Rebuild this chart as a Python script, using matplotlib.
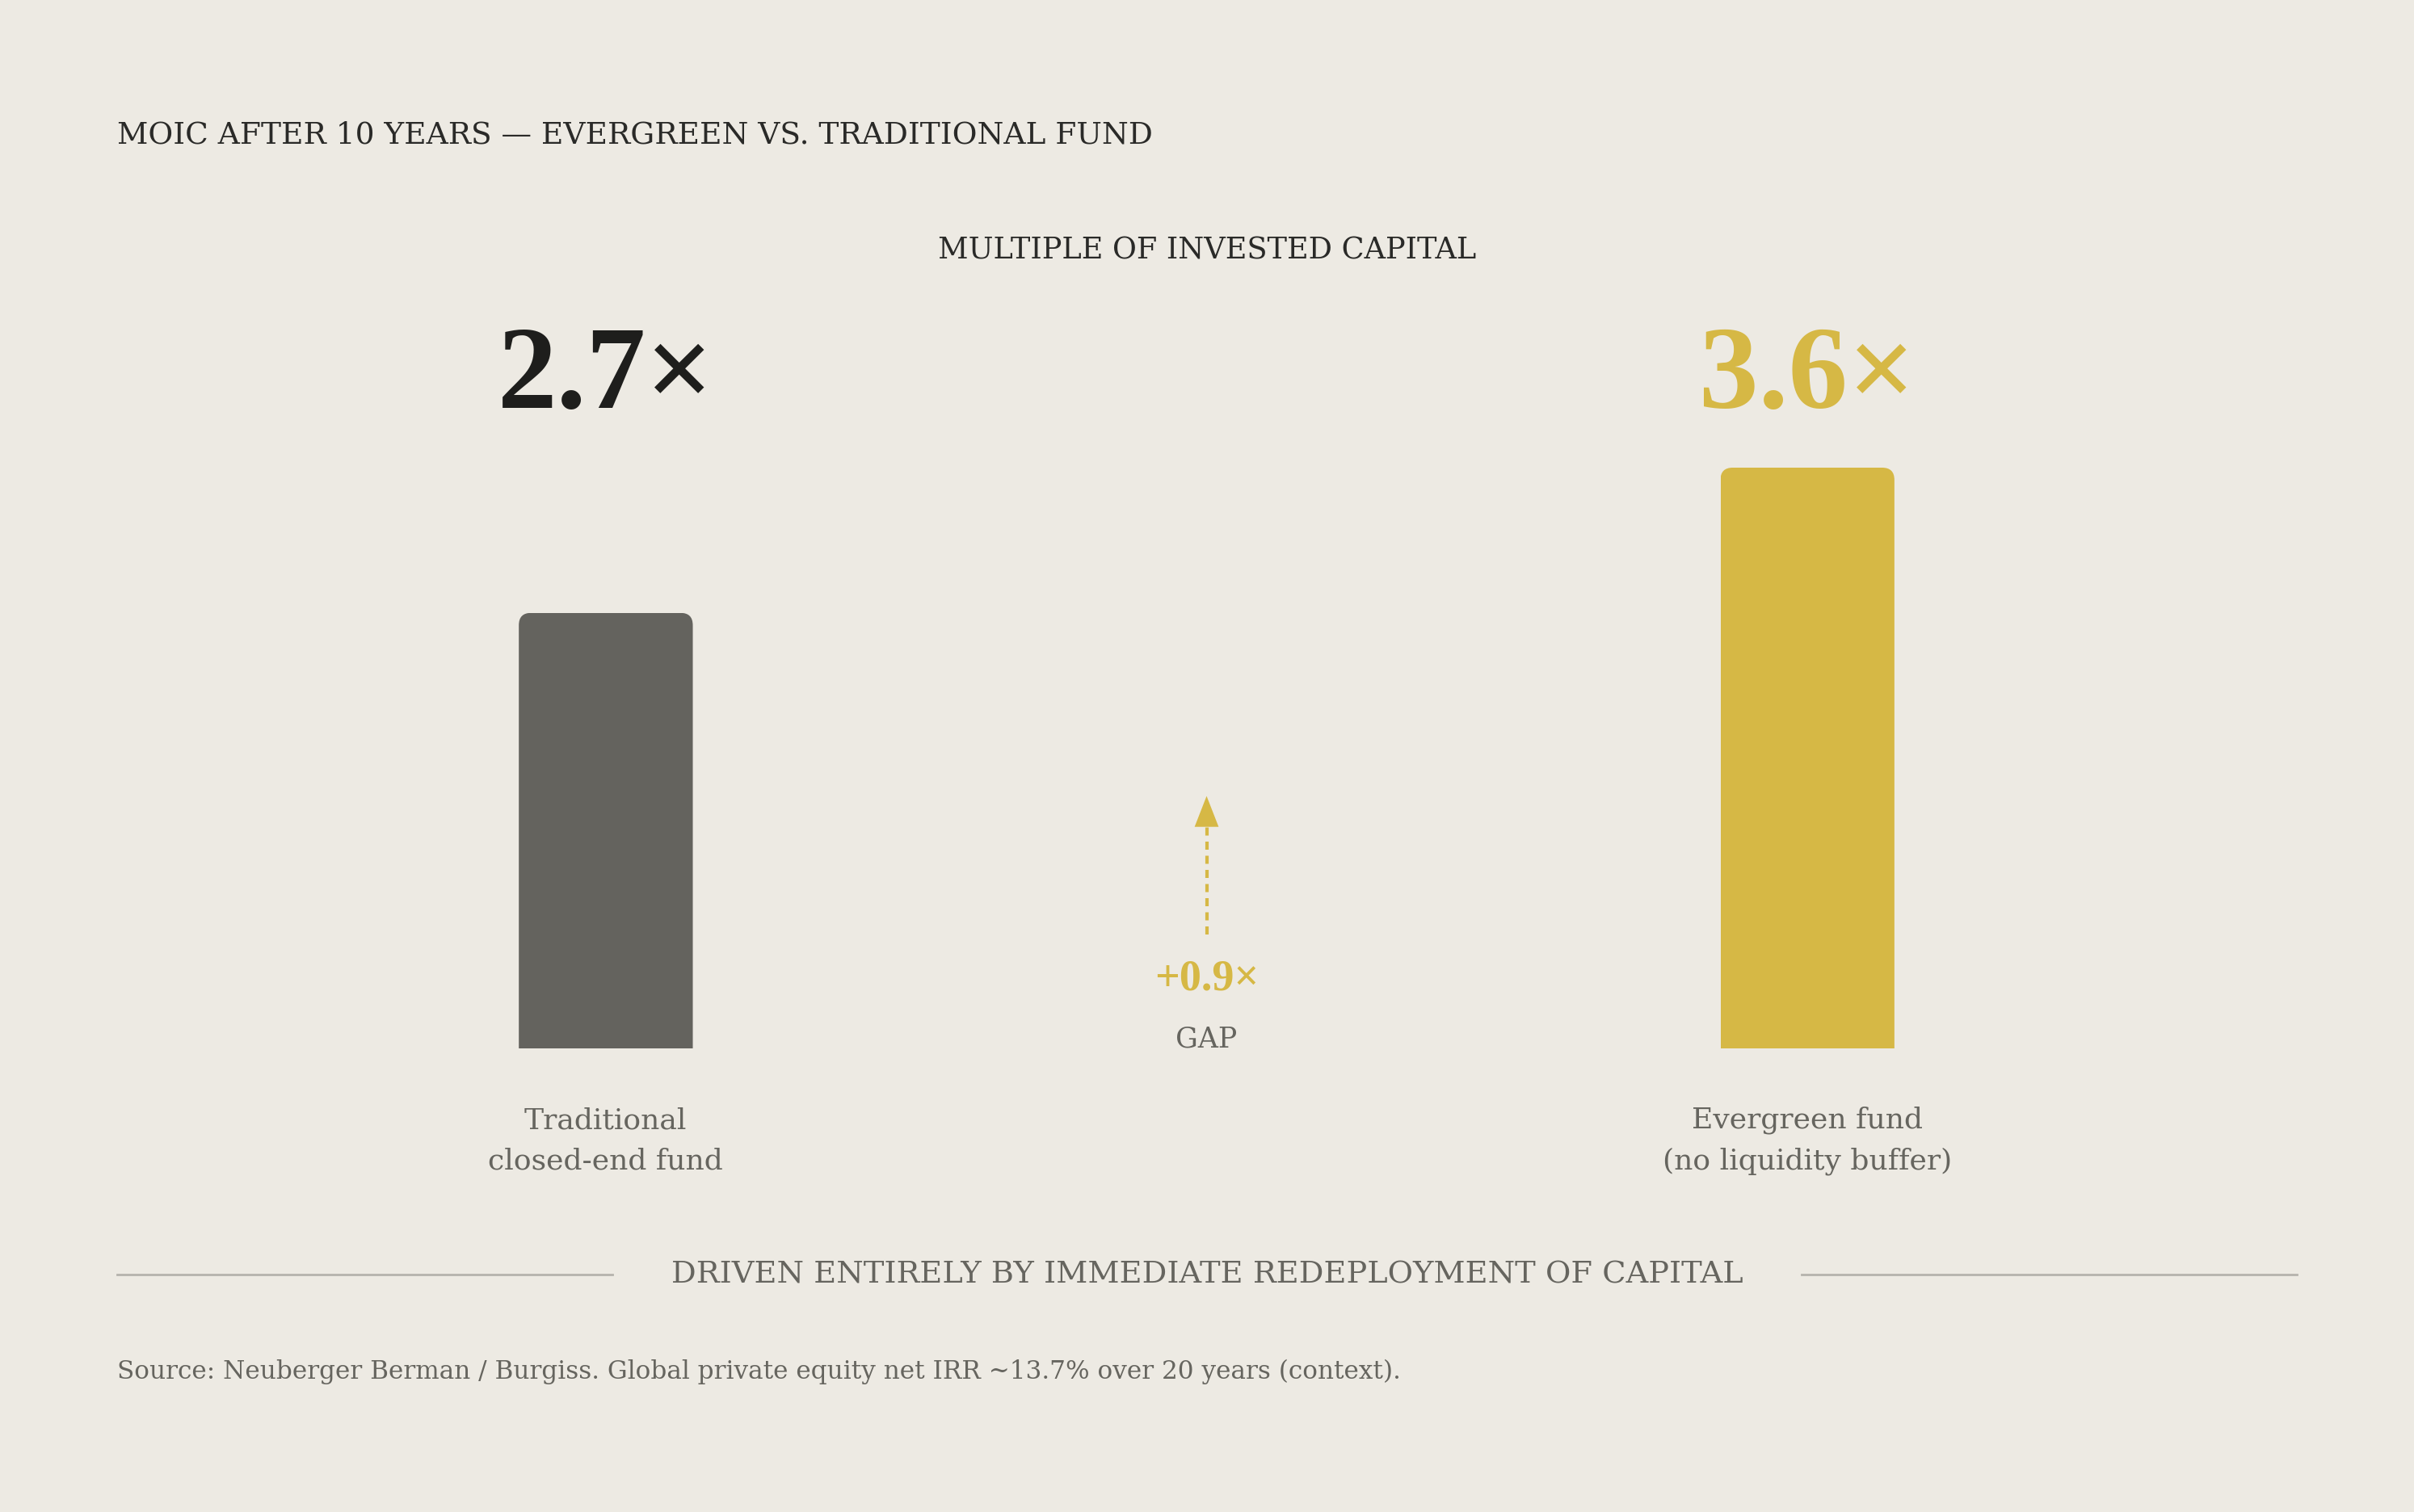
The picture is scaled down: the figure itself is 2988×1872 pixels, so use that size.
import numpy as np
import matplotlib.pyplot as plt
from matplotlib.patches import FancyBboxPatch

# data
categories = ["Traditional\nclosed-end fund", "Evergreen fund\n(no liquidity buffer)"]
values = [2.7, 3.6]
positions = [0, 2]
gap_pos = 1

BG = "#EDEAE3"
GREY_BAR = "#64635E"
GOLD = "#D6B845"
DARK = "#1E1E1C"
MUTED = "#66655F"
RULE = "#B5B3AD"
NUM_FONT = ["Liberation Serif", "DejaVu Serif"]

plt.rcParams['font.family'] = ['DejaVu Serif']

W, H = 1568, 982  # layout units of the reference
fig = plt.figure(figsize=(14.94, 9.36), dpi=200, facecolor=BG)
ax = fig.add_axes([0, 0, 1, 1])
ax.set_facecolor(BG)
ax.axis("off")

unit = 104.8     # px per 1.0x of MOIC
base = 681       # baseline px from top
xunit = 390.25   # px per x position
x0 = 393.5
ax.set_xlim(-x0 / xunit, (W - x0) / xunit)
ax.set_ylim(-(H - base) / unit, base / unit)


def fx(px):
    return px / W


def fy(py):
    return 1 - py / H


# bars, clipped to a shape with rounded top corners
bar_w = 113 / xunit
colors = [GREY_BAR, GOLD]
rx = 8 / xunit
ry = 8 / unit
bars = ax.bar(positions, values, width=bar_w, color=colors, linewidth=0)
for b in bars:
    x, w, h = b.get_x(), b.get_width(), b.get_height()
    clip = FancyBboxPatch((x, -h), w, 2 * h,
                          boxstyle=f"round,pad=0,rounding_size={rx}",
                          mutation_aspect=ry / rx, transform=ax.transData,
                          fc="none", ec="none")
    b.set_clip_path(clip)

# value labels
val_colors = [DARK, GOLD]
for p, v, c in zip(positions, values, val_colors):
    ax.text(p, (base - 265) / unit, f"{v}×", ha="center", va="baseline",
            fontsize=53, fontweight="bold", color=c, family=NUM_FONT)

# category labels
for p, lab in zip(positions, categories):
    ax.text(p, -(741 - base) / unit, lab, ha="center", va="center",
            ma="center", fontsize=13, color=MUTED, linespacing=1.6)

# gap arrow
gap = values[1] - values[0]
y_lo = (base - 607) / unit
y_head = (base - 537) / unit
y_tip = (base - 517) / unit
ax.plot([gap_pos, gap_pos], [y_lo, y_head], color=GOLD, lw=1.5,
        dashes=(2.4, 1.8), solid_capstyle="butt")
hw = 7.8 / xunit
ax.fill([gap_pos - hw, gap_pos + hw, gap_pos], [y_head, y_head, y_tip],
        color=GOLD, lw=0)
ax.text(gap_pos, (base - 636) / unit, f"+{gap:.1f}×", ha="center",
        va="center", fontsize=19.5, fontweight="bold", color=GOLD,
        family=NUM_FONT)
ax.text(gap_pos, (base - 675) / unit, "GAP", ha="center", va="center",
        fontsize=12.5, color=MUTED)

# header texts
fig.text(fx(76), fy(88), "MOIC AFTER 10 YEARS — EVERGREEN VS. TRADITIONAL FUND",
         ha="left", va="center", fontsize=13.5, color="#2A2A28")
fig.text(fx(784), fy(163), "MULTIPLE OF INVESTED CAPITAL",
         ha="center", va="center", fontsize=13.2, color="#2A2A28")

# divider with caption
fig.add_artist(plt.Line2D([fx(76), fx(398)], [fy(828), fy(828)],
                          color=RULE, lw=1.0))
fig.add_artist(plt.Line2D([fx(1170), fx(1492)], [fy(828), fy(828)],
                          color=RULE, lw=1.0))
fig.text(fx(784), fy(828), "DRIVEN ENTIRELY BY IMMEDIATE REDEPLOYMENT OF CAPITAL",
         ha="center", va="center", fontsize=13.8, color=MUTED)

fig.text(fx(76), fy(891),
         "Source: Neuberger Berman / Burgiss. Global private equity net IRR ~13.7% over 20 years (context).",
         ha="left", va="center", fontsize=11.2, color=MUTED)

fig.savefig("out.png", dpi=200, facecolor=BG)
